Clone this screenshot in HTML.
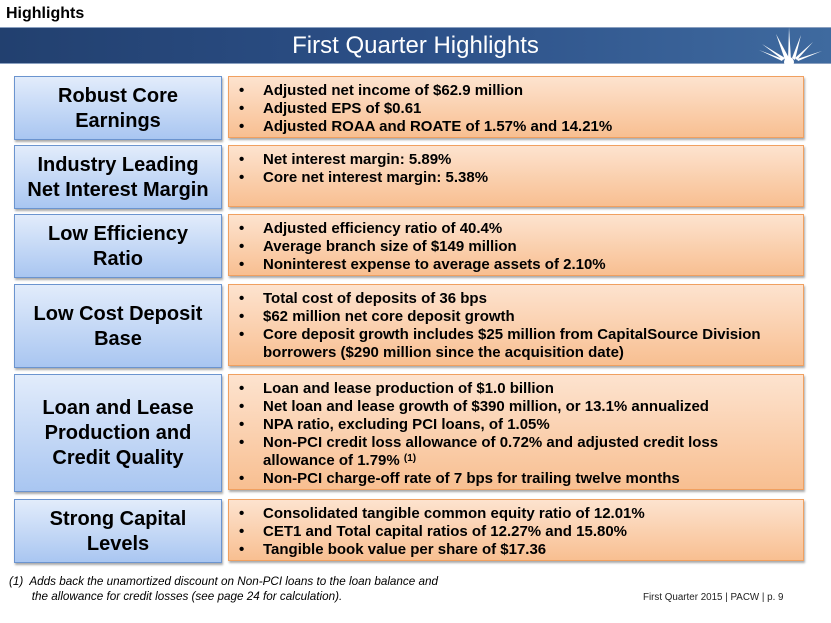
<!DOCTYPE html>
<html><head><meta charset="utf-8"><style>
body{margin:0;width:831px;height:623px;background:#fff;position:relative;overflow:hidden;font-family:"Liberation Sans",sans-serif}
.t{position:absolute;left:6px;top:5px;font-weight:bold;font-size:16px}
.ban{position:absolute;left:0;top:27px;width:831px;height:35px;background:linear-gradient(90deg,#22406f,#2c5088 50%,#3f6a9f);border-top:1px solid #8aa0c0;border-bottom:1px solid #8aa0c0}
.ban span{position:absolute;left:0;width:831px;text-align:center;top:4px;color:#fff;font-size:24px}
.l{position:absolute;left:14px;width:206px;background:linear-gradient(#e2ecfb,#a9c6f1);border:1px solid #6b94cf;box-shadow:1px 2px 2px #aaa;display:flex;align-items:center;justify-content:center;text-align:center;font-weight:bold;font-size:20px;line-height:25px;padding-top:1px;box-sizing:content-box}
.r{position:absolute;left:228px;width:576px;background:linear-gradient(#fde3cf,#f8bf91);border:1px solid #f0a060;box-shadow:1px 2px 2px #aaa;font-weight:bold;font-size:15px;line-height:18px;box-sizing:border-box;padding:5px 0 0 0}
.r div{position:relative;padding-left:34px}
.r div:before{content:"•";position:absolute;left:10px}
.fn{position:absolute;left:9px;top:574px;font-style:italic;font-size:11.7px;line-height:15px;white-space:nowrap}
.ft{position:absolute;left:643px;top:592px;font-size:9.8px;color:#222;white-space:nowrap}
</style></head><body>
<div class="t">Highlights</div>
<div class="ban"><span>First Quarter Highlights</span>
<svg style="position:absolute;left:750px;top:-1px" width="81" height="37"><g fill="#fff"><polygon points="38,33 39,0 41,33"/><polygon points="35,33 26,7 39,31"/><polygon points="42,31 51,8 45,33"/><polygon points="33,33 12,17 35,31"/><polygon points="45,31 63,15 47,33"/><polygon points="32,34 9,23 33,32"/><polygon points="47,32 72,24 48,34"/><circle cx="39" cy="35" r="5"/></g></svg></div>

<div class="l" style="top:76px;height:61px">Robust Core<br>Earnings</div>
<div class="r" style="top:76px;height:62px"><div>Adjusted net income of $62.9 million</div><div>Adjusted EPS of $0.61</div><div>Adjusted ROAA and ROATE of 1.57% and 14.21%</div></div>

<div class="l" style="top:145px;height:61px">Industry Leading<br>Net Interest Margin</div>
<div class="r" style="top:145px;height:62px"><div>Net interest margin: 5.89%</div><div>Core net interest margin: 5.38%</div></div>

<div class="l" style="top:214px;height:61px">Low Efficiency<br>Ratio</div>
<div class="r" style="top:214px;height:62px"><div>Adjusted efficiency ratio of 40.4%</div><div>Average branch size of $149 million</div><div>Noninterest expense to average assets of 2.10%</div></div>

<div class="l" style="top:284px;height:81px">Low Cost Deposit<br>Base</div>
<div class="r" style="top:284px;height:82px"><div>Total cost of deposits of 36 bps</div><div>$62 million net core deposit growth</div><div>Core deposit growth includes $25 million from CapitalSource Division<br>borrowers ($290 million since the acquisition date)</div></div>

<div class="l" style="top:374px;height:115px">Loan and Lease<br>Production and<br>Credit Quality</div>
<div class="r" style="top:374px;height:116px"><div>Loan and lease production of $1.0 billion</div><div>Net loan and lease growth of $390 million, or 13.1% annualized</div><div>NPA ratio, excluding PCI loans, of 1.05%</div><div>Non-PCI credit loss allowance of 0.72% and adjusted credit loss<br>allowance of 1.79% <span style="font-size:10px;vertical-align:4px;line-height:0">(1)</span></div><div>Non-PCI charge-off rate of 7 bps for trailing twelve months</div></div>

<div class="l" style="top:499px;height:61px">Strong Capital<br>Levels</div>
<div class="r" style="top:499px;height:62px"><div>Consolidated tangible common equity ratio of 12.01%</div><div>CET1 and Total capital ratios of 12.27% and 15.80%</div><div>Tangible book value per share of $17.36</div></div>

<div class="fn">(1)&nbsp; Adds back the unamortized discount on Non-PCI loans to the loan balance and<br>&nbsp;&nbsp;&nbsp;&nbsp;&nbsp;&nbsp; the allowance for credit losses (see page 24 for calculation).</div>
<div class="ft">First Quarter 2015 | PACW | p. 9</div>
</body></html>
